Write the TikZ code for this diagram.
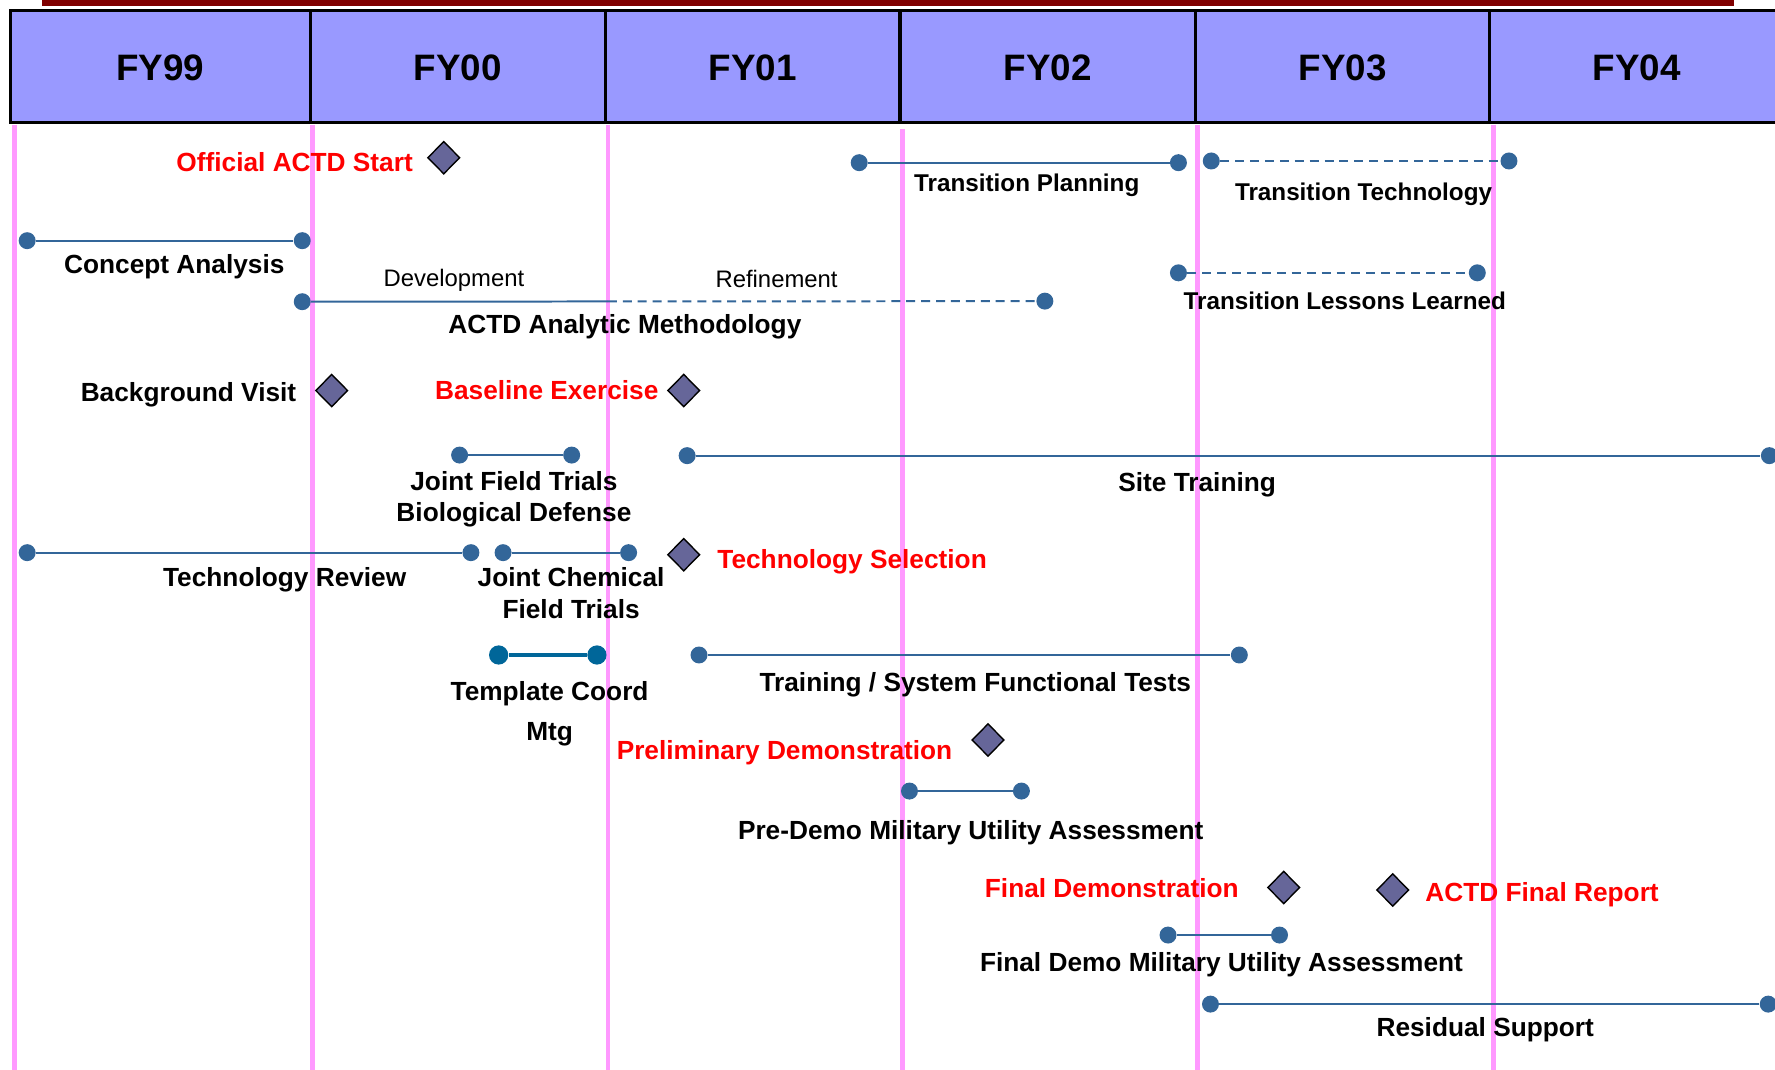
\documentclass[tikz,border=0pt]{standalone}
\usepackage{fontspec}
\setmainfont{Liberation Sans}
\usepackage{tikz}
\usetikzlibrary{shapes.geometric}
\definecolor{header}{HTML}{9999FF}
\definecolor{yearpink}{HTML}{FF99FF}
\definecolor{steel}{HTML}{336699}
\definecolor{deepblue}{HTML}{006699}
\definecolor{maroon}{HTML}{800000}
\definecolor{slate}{HTML}{666699}
\tikzset{
  hdr/.style={draw=black, fill=header, line width=1.65pt},
  yearline/.style={draw=yearpink, line width=2.4pt},
  bar/.style={draw=steel, line width=1pt},
  planned/.style={bar, dash pattern=on 4.5pt off 3pt},
  pt/.style={circle, fill=steel, inner sep=0pt, minimum size=0.3cm},
  milestone/.style={diamond, draw=black, fill=slate, line width=0.7pt, inner sep=0pt, minimum width=0.57cm, minimum height=0.58cm},
  lab/.style={font=\fontsize{13.2}{15.9}\selectfont\bfseries, inner sep=0pt, align=center},
  labs/.style={lab, font=\fontsize{12.2}{14.6}\selectfont\bfseries},
  labr/.style={lab, text=red},
  phase/.style={font=\fontsize{12}{14}\selectfont, inner sep=0pt},
  year/.style={font=\fontsize{18.5}{22}\selectfont\bfseries, inner sep=0pt}
}

\begin{document}
\begin{tikzpicture}[x=0.02cm, y=-0.02cm]
  \useasboundingbox (0,0) rectangle (1568,945.2);

  % header
  \fill[maroon] (37,0) rectangle (1532,5);
  \draw[hdr] (9,9) rectangle (1600,108);
  \foreach \x in {274,535,795,1056,1316}
    \draw[line width=1.65pt] (\x,9) -- (\x,108);
  \foreach \x/\t in {141.5/FY99,404.5/FY00,665/FY01,925.5/FY02,1186/FY03,1446/FY04}
    \node[year, anchor=base] (\t) at (\x,70.7) {\t};
  \foreach \x/\s in {13/110,276/110,537/110,797/114,1058/110,1319/110}
    \draw[yearline] (\x,\s) -- (\x,946);

  % milestones
  \node[milestone] (start) at (392,139.3) {};
  \node[labr, anchor=base east] (startl) at (365,151.7) {Official ACTD Start};
  \node[milestone] (bv) at (293,345) {};
  \node[lab, anchor=base east] (bvl) at (262,354.3) {Background Visit};
  \node[milestone] (be) at (604,345) {};
  \node[labr, anchor=base east] (bel) at (582,353.3) {Baseline Exercise};
  \node[milestone] (ts) at (604,490) {};
  \node[labr, anchor=base west] (tsl) at (633.4,502) {Technology Selection};
  \node[milestone] (pd) at (872.8,653.7) {};
  \node[labr, anchor=base east] (pdl) at (841.6,670.8) {Preliminary Demonstration};
  \node[milestone] (fd) at (1134,784) {};
  \node[labr, anchor=base east] (fdl) at (1094.6,792.7) {Final Demonstration};
  \node[milestone] (fr) at (1230.3,786.2) {};
  \node[labr, anchor=base west] (frl) at (1258.8,796.5) {ACTD Final Report};

  % activities
  \node[pt] (tp1) at (759,143.7) {};
  \node[pt] (tp2) at (1041,143.7) {};
  \draw[bar] (tp1) -- (tp2);
  \node[labs, anchor=base] (tpl) at (907,169.3) {Transition Planning};

  \node[pt] (tt1) at (1070,142.2) {};
  \node[pt] (tt2) at (1333,142.2) {};
  \draw[planned] (tt1) -- (tt2);
  \node[labs, anchor=base] (ttl) at (1204.5,176.7) {Transition Technology};

  \node[pt] (ca1) at (24,212.6) {};
  \node[pt] (ca2) at (267,212.6) {};
  \draw[bar] (ca1) -- (ca2);
  \node[lab, anchor=base] (cal) at (154,242) {Concept Analysis};

  \node[pt] (am1) at (267,266.5) {};
  \node[pt] (am2) at (923,266) {};
  \coordinate (amx) at (537,266.3);
  \draw[bar] (am1) -- (amx);
  \draw[planned] (amx) -- (am2);
  \node[phase, anchor=base] (dev) at (401,253) {Development};
  \node[phase, anchor=base] (ref) at (686,253.6) {Refinement};
  \node[lab, anchor=base] (aml) at (552,294.5) {ACTD Analytic Methodology};

  \node[pt] (tl1) at (1041,241) {};
  \node[pt] (tl2) at (1305,241) {};
  \draw[planned] (tl1) -- (tl2);
  \node[labs, anchor=base] (tll) at (1188,273) {Transition Lessons Learned};

  \node[pt] (jb1) at (406,402) {};
  \node[pt] (jb2) at (505,402) {};
  \draw[bar] (jb1) -- (jb2);
  \node[lab, anchor=north] (jbl) at (454,416) {Joint Field Trials\\Biological Defense};

  \node[pt] (st1) at (607,402.5) {};
  \node[pt] (st2) at (1563,402.5) {};
  \draw[bar] (st1) -- (st2);
  \node[lab, anchor=base] (stl) at (1057.5,434.3) {Site Training};

  \node[pt] (tr1) at (24,488.2) {};
  \node[pt] (tr2) at (416,488.2) {};
  \draw[bar] (tr1) -- (tr2);
  \node[lab, anchor=base] (trl) at (251.5,518.3) {Technology Review};

  \node[pt] (jc1) at (444.4,488.2) {};
  \node[pt] (jc2) at (555.3,488.2) {};
  \draw[bar] (jc1) -- (jc2);
  \node[lab, anchor=north] (jcl) at (504.5,501) {Joint Chemical\\Field Trials};

  \node[pt, fill=deepblue, minimum size=0.34cm] (tc1) at (440.5,578.6) {};
  \node[pt, fill=deepblue, minimum size=0.34cm] (tc2) at (527.3,578.6) {};
  \draw[bar, draw=deepblue, line width=1.6pt] (tc1) -- (tc2);
  \node[lab, anchor=north] (tcl) at (485.5,602) {Template Coord\\[3.9pt]Mtg};

  \node[pt] (sf1) at (617.5,578.6) {};
  \node[pt] (sf2) at (1094.8,578.6) {};
  \draw[bar] (sf1) -- (sf2);
  \node[lab, anchor=base] (sfl) at (861.5,611) {Training / System Functional Tests};

  \node[pt] (pm1) at (803.4,698.8) {};
  \node[pt] (pm2) at (902.3,698.8) {};
  \draw[bar] (pm1) -- (pm2);
  \node[lab, anchor=base] (pml) at (857.5,741.5) {Pre-Demo Military Utility Assessment};

  \node[pt] (fm1) at (1031.8,826) {};
  \node[pt] (fm2) at (1130.3,826) {};
  \draw[bar] (fm1) -- (fm2);
  \node[lab, anchor=base] (fml) at (1079,858.4) {Final Demo Military Utility Assessment};

  \node[pt] (rs1) at (1069.3,887) {};
  \node[pt] (rs2) at (1562,887) {};
  \draw[bar] (rs1) -- (rs2);
  \node[lab, anchor=base] (rsl) at (1312,915.2) {Residual Support};
\end{tikzpicture}
\end{document}
